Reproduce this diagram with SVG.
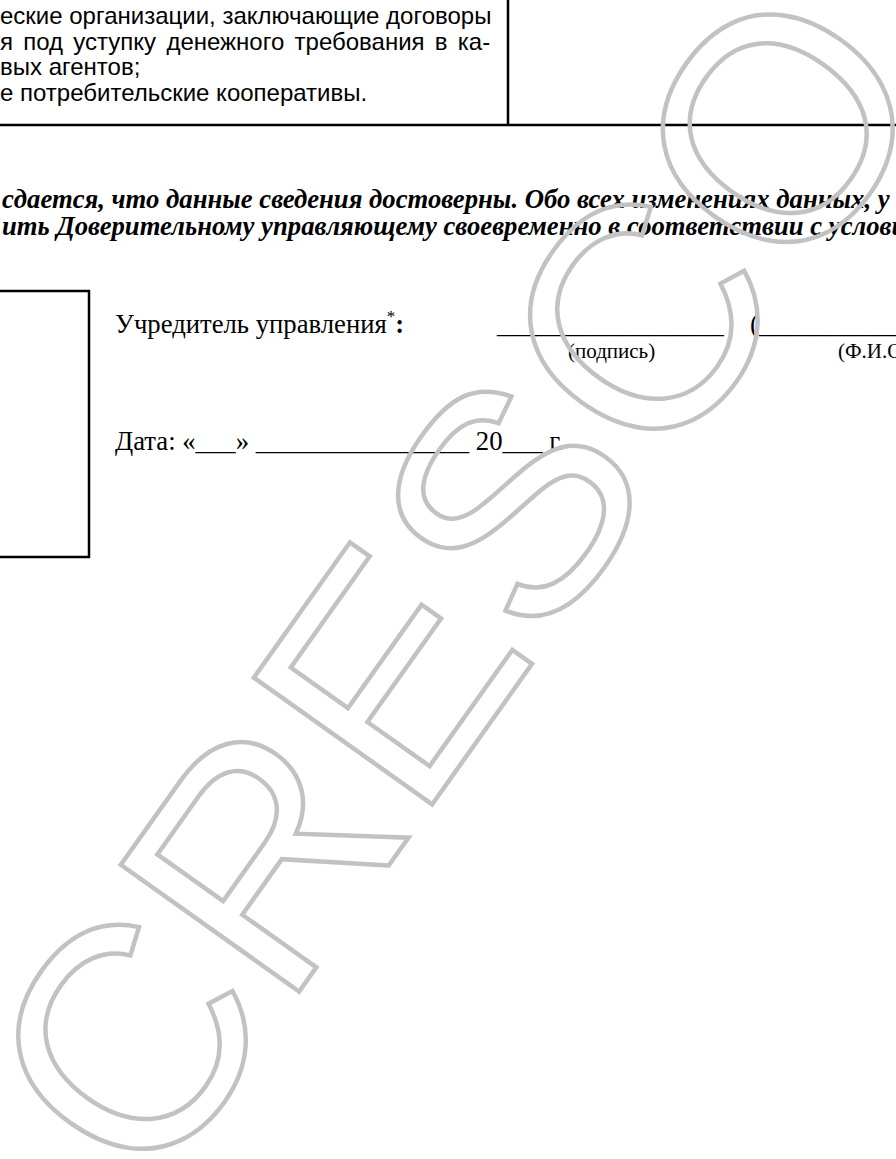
<svg xmlns="http://www.w3.org/2000/svg" width="896" height="1159" viewBox="0 0 896 1159">
<style>
.sans{font-family:"Liberation Sans",Arial,sans-serif;font-size:24px;fill:#000}
.serif{font-family:"Liberation Serif","Times New Roman",serif;font-size:26.7px;fill:#000}
.bi{font-family:"Liberation Serif","Times New Roman",serif;font-size:26.7px;font-weight:bold;font-style:italic;fill:#000}
.small{font-family:"Liberation Serif","Times New Roman",serif;font-size:21px;fill:#000}
.rule{stroke:#000;stroke-width:2.5;fill:none}
.wm{font-family:"Liberation Sans",Arial,sans-serif;font-size:318px;fill:none;stroke:#c2c2c2;stroke-width:4.5}
</style>
<rect x="0" y="0" width="896" height="1159" fill="#fff"/>
<g id="table">
<line class="rule" x1="508" y1="0" x2="508" y2="125"/>
<line class="rule" x1="0" y1="125" x2="896" y2="125"/>
<text class="sans" x="0" y="24">еские организации, заключающие договоры</text>
<text class="sans" x="0" y="50" word-spacing="3.6">я под уступку денежного требования в ка-</text>
<text class="sans" x="0" y="75">вых агентов;</text>
<text class="sans" x="0" y="101">е потребительские кооперативы.</text>
</g>
<g id="statement">
<text class="bi" x="2" y="208">сдается, что данные сведения достоверны. Обо всех изменениях данных, у</text>
<text class="bi" x="2" y="235">ить Доверительному управляющему своевременно в соответствии с услови</text>
</g>
<g id="stamp-box">
<rect class="rule" x="-10" y="291" width="99" height="266"/>
</g>
<g id="signature">
<text class="serif" x="115" y="333">Учредитель управления<tspan font-size="17" dy="-11">*</tspan><tspan font-weight="bold" dy="11">:</tspan></text>
<text class="serif" x="497" y="333">_________________</text>
<text class="serif" x="750" y="333">(___________</text>
<text class="small" x="568" y="358">(подпись)</text>
<text class="small" x="838" y="358">(Ф.И.О.)</text>
</g>
<g id="date">
<text class="serif" x="115" y="450">Дата: «___» ________________ 20___ г.</text>
</g>
<g id="watermark">
<text class="wm" x="151" y="1200" transform="rotate(-54.6 151 1200)">CRESCO</text>
</g>
</svg>
